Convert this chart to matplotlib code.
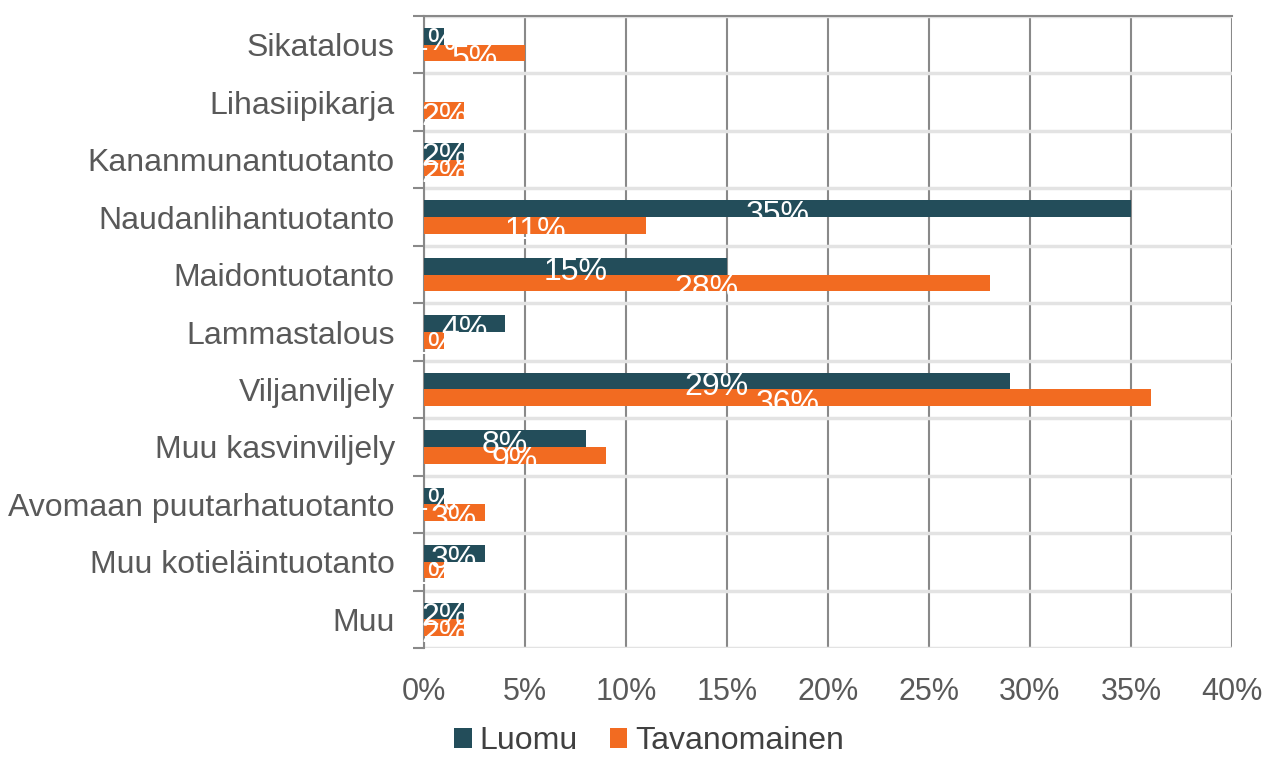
import numpy as np
import matplotlib.pyplot as plt
from matplotlib.path import Path

plt.rcParams['font.family'] = ['Liberation Sans', 'DejaVu Sans']

categories = ['Sikatalous', 'Lihasiipikarja', 'Kananmunantuotanto', 'Naudanlihantuotanto',
              'Maidontuotanto', 'Lammastalous', 'Viljanviljely', 'Muu kasvinviljely',
              'Avomaan puutarhatuotanto', 'Muu kotieläintuotanto', 'Muu']
luomu = [1, 0, 2, 35, 15, 4, 29, 8, 1, 3, 2]
tavanomainen = [5, 2, 2, 11, 28, 1, 36, 9, 3, 1, 2]
xticks = [0, 5, 10, 15, 20, 25, 30, 35, 40]

c_luomu = '#234D5A'
c_tava = '#F26B21'
grid_dark = '#898989'
text_gray = '#595959'

fig = plt.figure(figsize=(12.68, 7.6), dpi=100)
ax = fig.add_axes([424 / 1268, 1 - 648 / 760, 808 / 1268, 632 / 760])

y = np.arange(len(categories))
h = 0.29
bars1 = ax.barh(y - h / 2, luomu, height=h, color=c_luomu, label='Luomu', zorder=3)
bars2 = ax.barh(y + h / 2, tavanomainen, height=h, color=c_tava, label='Tavanomainen', zorder=3)

# white value labels, shown only where they sit on a bar of their group
for b1, b2, v1, v2 in zip(bars1, bars2, luomu, tavanomainen):
    clip = Path.make_compound_path(
        b1.get_path().transformed(b1.get_patch_transform()),
        b2.get_path().transformed(b2.get_patch_transform()))
    for b, v in ((b1, v1), (b2, v2)):
        if v == 0:
            continue
        t = ax.text(b.get_x() + b.get_width() / 2, b.get_y() + h + 0.1,
                    f'{v}%', ha='center', va='baseline', color='white', fontsize=23, zorder=4)
        t.set_clip_path(clip, ax.transData)

ax.set_xlim(0, 40)
ax.set_ylim(len(categories) - 0.5, -0.5)
ax.set_xticks(xticks)
ax.set_xticklabels([f'{v}%' for v in xticks])
ax.set_yticks(y)
ax.set_yticklabels(categories)
ax.set_yticks(np.arange(len(categories) + 1) - 0.5, minor=True)

ax.tick_params(axis='x', length=0, pad=21, labelsize=22, labelcolor=text_gray)
ax.tick_params(axis='y', which='major', length=0, pad=21, labelsize=23, labelcolor=text_gray)
ax.tick_params(axis='y', which='minor', length=8, width=1.5, color=grid_dark)

ax.grid(axis='x', color=grid_dark, lw=1.5, zorder=0)
ax.grid(axis='y', which='minor', color='#e3e3e3', lw=2.5, zorder=0)

for s in ('right', 'bottom'):
    ax.spines[s].set_visible(False)
ax.spines['left'].set_color(grid_dark)
ax.spines['left'].set_linewidth(1.5)
ax.spines['top'].set_color(grid_dark)
ax.spines['top'].set_linewidth(1.5)

fig.legend(loc='lower center', bbox_to_anchor=(0.512, -0.033), ncol=2, frameon=False,
           fontsize=23, handlelength=0.55, handleheight=0.55, handletextpad=0.25,
           columnspacing=1.0, labelcolor='#404040')

fig.savefig('out.png', dpi=100)
